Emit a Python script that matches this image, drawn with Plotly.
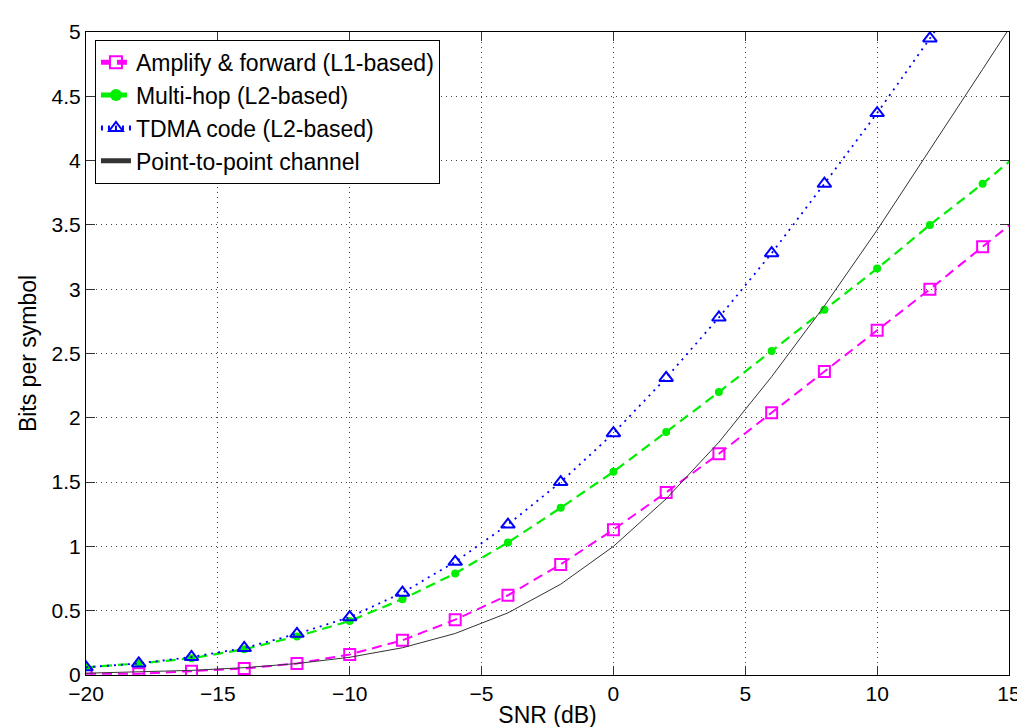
import plotly.graph_objects as go

snr = [-20, -18, -16, -14, -12, -10, -8, -6, -4, -2, 0, 2, 4, 6, 8, 10, 12, 14, 16]

af = [0.01, 0.01, 0.03, 0.05, 0.09, 0.16, 0.27, 0.43, 0.62, 0.86, 1.13, 1.42, 1.72, 2.04, 2.36, 2.68, 3.00, 3.33, 3.66]
mh = [0.06, 0.09, 0.13, 0.20, 0.30, 0.42, 0.59, 0.79, 1.03, 1.30, 1.58, 1.89, 2.20, 2.52, 2.84, 3.16, 3.50, 3.82, 4.16]
tdma = [0.06, 0.09, 0.14, 0.21, 0.32, 0.45, 0.64, 0.88, 1.17, 1.50, 1.88, 2.31, 2.78, 3.28, 3.82, 4.37, 4.95, 5.55, 6.10]
p2p = [0.014, 0.023, 0.036, 0.057, 0.089, 0.138, 0.212, 0.323, 0.483, 0.706, 1.00, 1.37, 1.81, 2.32, 2.87, 3.46, 4.08, 4.71, 5.34]

names = ["Amplify & forward (L1-based)", "Multi-hop (L2-based)", "TDMA code (L2-based)", "Point-to-point channel"]

x_ticks = [-20, -15, -10, -5, 0, 5, 10, 15]
y_ticks = [0, 0.5, 1, 1.5, 2, 2.5, 3, 3.5, 4, 4.5, 5]

FONT = "Arial, 'Liberation Sans', Helvetica, sans-serif"

fig = go.Figure()
fig.add_trace(go.Scatter(
    x=snr, y=af, name=names[0], mode="lines+markers",
    line=dict(color="#FF00FF", width=2, dash="10px,6px"),
    marker=dict(symbol="square-open", size=11, color="#FF00FF", line=dict(width=2, color="#FF00FF")),
))
fig.add_trace(go.Scatter(
    x=snr, y=mh, name=names[1], mode="lines+markers",
    line=dict(color="#00EE00", width=2.2, dash="10px,6px"),
    marker=dict(symbol="circle", size=8, color="#00EE00"),
))
fig.add_trace(go.Scatter(
    x=snr, y=tdma, name=names[2], mode="lines+markers",
    line=dict(color="#0000FF", width=1.8, dash="2px,5px"),
    marker=dict(symbol="triangle-up-open", size=12, color="#0000FF", line=dict(width=2, color="#0000FF")),
))
fig.add_trace(go.Scatter(
    x=snr, y=p2p, name=names[3], mode="lines",
    line=dict(color="#333333", width=1),
))

axis_common = dict(
    showline=True, linecolor="black", linewidth=1, mirror="ticks",
    ticks="inside", ticklen=9, tickcolor="#333333",
    showgrid=True, gridcolor="#444444", griddash="1px,4px", gridwidth=1,
    zeroline=False,
    tickfont=dict(family=FONT, size=21, color="black"),
)

fig.update_xaxes(range=[-20, 15], tickvals=x_ticks,
                 title=dict(text="SNR (dB)", font=dict(family=FONT, size=23, color="black"), standoff=2),
                 **axis_common)
fig.update_yaxes(range=[0, 5], tickvals=y_ticks,
                 title=dict(text="Bits per symbol", font=dict(family=FONT, size=23, color="black"), standoff=8),
                 **axis_common)

fig.update_layout(
    width=1025, height=727,
    margin=dict(l=78, r=16, t=22, b=58),
    plot_bgcolor="white", paper_bgcolor="white",
    font=dict(family=FONT, color="black"),
    legend=dict(x=0.0097, y=0.988, xanchor="left", yanchor="top",
                bgcolor="white", bordercolor="black", borderwidth=1,
                font=dict(family=FONT, size=23, color="black"),
                tracegroupgap=0, itemsizing="constant"),
    showlegend=True,
)

fig.write_html("out.html")
